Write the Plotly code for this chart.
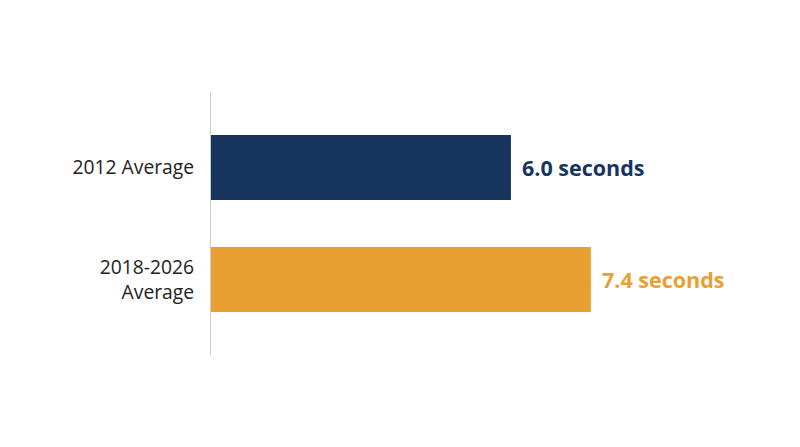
import plotly.graph_objects as go

categories = ["2012 Average", "2018-2026<br>Average"]
values = [6.0, 7.4]
value_labels = ["6.0 seconds", "7.4 seconds"]
colors = ["#17345f", "#e8a033"]

fig = go.Figure()
fig.add_trace(go.Bar(
    y=categories, x=values, orientation="h",
    marker=dict(color=colors, line=dict(width=0)),
    width=0.58, hoverinfo="skip",
))

for cat, v, lab, c in zip(categories, values, value_labels, colors):
    fig.add_annotation(x=v, y=cat, text=f"<b>{lab}</b>", showarrow=False,
                       xanchor="left", yanchor="middle", xshift=9,
                       font=dict(family="Open Sans", size=21.5, color=c))

fig.update_layout(
    width=800, height=447,
    margin=dict(l=203, r=48, t=84, b=100),
    paper_bgcolor="white", plot_bgcolor="white",
    showlegend=False,
    font=dict(family="Open Sans", size=19.3, color="#222222"),
    xaxis=dict(range=[0.75, 10.36], visible=False, showgrid=False, zeroline=False),
    yaxis=dict(type="category", range=[1.674, -0.674], showgrid=False, zeroline=False,
               showline=True, linecolor="#cccccc", linewidth=1,
               ticks="", ticklabelstandoff=12,
               tickfont=dict(family="Open Sans", size=19.3, color="#222222")),
)

fig.write_html("out.html")
